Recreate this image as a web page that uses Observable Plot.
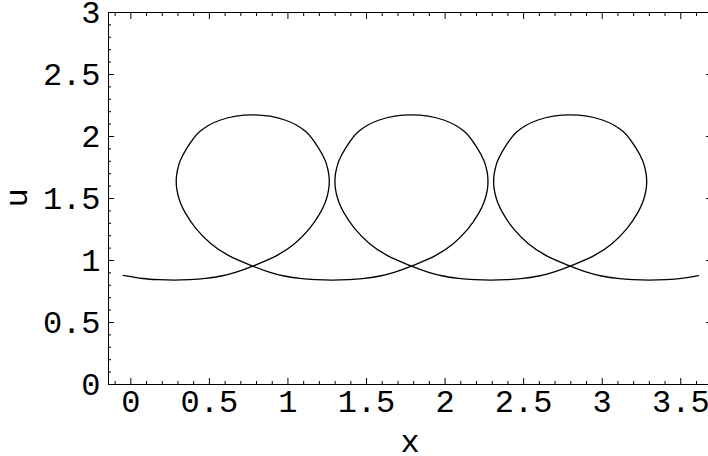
<!DOCTYPE html>
<html><head><meta charset="utf-8">
<script src="https://cdn.jsdelivr.net/npm/d3@7"></script>
<script src="https://cdn.jsdelivr.net/npm/@observablehq/plot@0.6"></script>
<style>html,body{margin:0;padding:0;background:#fff;}</style>
</head><body><div id="chart"></div>
<script>
// Curve points (x, u), in drawing order
const curveX = [-0.048, 0.076, 0.176, 0.276, 0.376, 0.476, 0.576, 0.676, 0.776,
  0.931, 1.042, 1.137, 1.208, 1.237, 1.251, 1.260, 1.263, 1.260, 1.251, 1.237, 1.196, 1.113, 0.981, 0.776,
  0.571, 0.439, 0.356, 0.315, 0.301, 0.292, 0.289, 0.292, 0.301, 0.315, 0.344, 0.415, 0.510, 0.621, 0.776,
  0.876, 0.976, 1.076, 1.176, 1.281,
  1.386, 1.486, 1.586, 1.686, 1.786,
  1.941, 2.052, 2.147, 2.218, 2.247, 2.261, 2.270, 2.273, 2.270, 2.261, 2.247, 2.206, 2.123, 1.991, 1.786,
  1.581, 1.449, 1.366, 1.325, 1.311, 1.302, 1.299, 1.302, 1.311, 1.325, 1.354, 1.425, 1.520, 1.631, 1.786,
  1.886, 1.986, 2.086, 2.186, 2.291,
  2.396, 2.496, 2.596, 2.696, 2.796,
  2.951, 3.062, 3.157, 3.228, 3.257, 3.271, 3.280, 3.283, 3.280, 3.271, 3.257, 3.216, 3.133, 3.001, 2.796,
  2.591, 2.459, 2.376, 2.335, 2.321, 2.312, 2.309, 2.312, 2.321, 2.335, 2.364, 2.435, 2.530, 2.641, 2.796,
  2.896, 2.996, 3.096, 3.196, 3.301, 3.406, 3.506, 3.613];
const curveU = [0.880, 0.855, 0.845, 0.841, 0.845, 0.856, 0.875, 0.909, 0.955,
  1.041, 1.136, 1.257, 1.390, 1.468, 1.524, 1.581, 1.637, 1.694, 1.750, 1.806, 1.905, 2.040, 2.133, 2.174,
  2.133, 2.040, 1.905, 1.806, 1.750, 1.694, 1.637, 1.581, 1.524, 1.468, 1.390, 1.257, 1.136, 1.041, 0.955,
  0.909, 0.875, 0.856, 0.845, 0.841,
  0.845, 0.856, 0.875, 0.909, 0.955,
  1.041, 1.136, 1.257, 1.390, 1.468, 1.524, 1.581, 1.637, 1.694, 1.750, 1.806, 1.905, 2.040, 2.133, 2.174,
  2.133, 2.040, 1.905, 1.806, 1.750, 1.694, 1.637, 1.581, 1.524, 1.468, 1.390, 1.257, 1.136, 1.041, 0.955,
  0.909, 0.875, 0.856, 0.845, 0.841,
  0.845, 0.856, 0.875, 0.909, 0.955,
  1.041, 1.136, 1.257, 1.390, 1.468, 1.524, 1.581, 1.637, 1.694, 1.750, 1.806, 1.905, 2.040, 2.133, 2.174,
  2.133, 2.040, 1.905, 1.806, 1.750, 1.694, 1.637, 1.581, 1.524, 1.468, 1.390, 1.257, 1.136, 1.041, 0.955,
  0.909, 0.875, 0.856, 0.845, 0.841, 0.845, 0.856, 0.878];

const xMajorTicks = [0, 0.5, 1, 1.5, 2, 2.5, 3, 3.5];
const xTickLabels = ["0", "0.5", "1", "1.5", "2", "2.5", "3", "3.5"];
const xMinorTicks = [-0.1, 0.1, 0.2, 0.3, 0.4, 0.6, 0.7, 0.8, 0.9, 1.1, 1.2, 1.3, 1.4, 1.6, 1.7, 1.8, 1.9,
  2.1, 2.2, 2.3, 2.4, 2.6, 2.7, 2.8, 2.9, 3.1, 3.2, 3.3, 3.4, 3.6];
const yMajorTicks = [0, 0.5, 1, 1.5, 2, 2.5, 3];
const yTickLabels = ["0", "0.5", "1", "1.5", "2", "2.5", "3"];
const yMinorTicks = [0.1, 0.2, 0.3, 0.4, 0.6, 0.7, 0.8, 0.9, 1.1, 1.2, 1.3, 1.4, 1.6, 1.7, 1.8, 1.9,
  2.1, 2.2, 2.3, 2.4, 2.6, 2.7, 2.8, 2.9];
const xDomain = [-0.142, 3.6955];
const yDomain = [0, 3];
const xTitle = ["x"];
const yTitle = ["u"];

const FONT = "Liberation Mono";
const curve = curveX.map((x, i) => ({x, u: curveU[i]}));
const xFmt = d => xTickLabels[xMajorTicks.indexOf(d)];
const yFmt = d => yTickLabels[yMajorTicks.indexOf(d)];
const tickOnly = {fill: "none", label: null, stroke: "#000"};

const chart = Plot.plot({
  width: 708, height: 456,
  marginLeft: 108, marginRight: -3, marginTop: 12, marginBottom: 72,
  x: {domain: xDomain},
  y: {domain: yDomain},
  style: {fontFamily: FONT, fontSize: "32px", background: "#fff", color: "#000"},
  marks: [
    Plot.ruleY([yDomain[0]], {stroke: "#000", strokeWidth: 1}),
    Plot.ruleY([yDomain[1]], {stroke: "#000", strokeWidth: 1}),
    Plot.ruleX([xDomain[0]], {stroke: "#000", strokeWidth: 1}),
    Plot.ruleX([xDomain[1]], {stroke: "#000", strokeWidth: 1}),
    // bottom ticks
    Plot.axisX({anchor: "bottom", ticks: xMajorTicks, tickSize: -6, ...tickOnly}),
    Plot.axisX({anchor: "bottom", ticks: xMinorTicks, tickSize: -3, ...tickOnly}),
    Plot.axisX({anchor: "bottom", ticks: xMajorTicks, tickSize: 0, tickPadding: 5, tickFormat: xFmt, label: null,
      fontFamily: FONT, fontSize: 32, fill: "#000"}),
    // top ticks
    Plot.axisX({anchor: "top", ticks: xMajorTicks, tickSize: -6, ...tickOnly}),
    Plot.axisX({anchor: "top", ticks: xMinorTicks, tickSize: -3, ...tickOnly}),
    // left ticks
    Plot.axisY({anchor: "left", ticks: yMajorTicks, tickSize: -6, ...tickOnly}),
    Plot.axisY({anchor: "left", ticks: yMinorTicks, tickSize: -3, ...tickOnly}),
    Plot.axisY({anchor: "left", ticks: yMajorTicks, tickSize: 0, tickPadding: 8, tickFormat: yFmt, label: null,
      fontFamily: FONT, fontSize: 32, fill: "#000"}),
    // right ticks
    Plot.axisY({anchor: "right", ticks: yMajorTicks, tickSize: -6, ...tickOnly}),
    Plot.axisY({anchor: "right", ticks: yMinorTicks, tickSize: -3, ...tickOnly}),
    // axis titles
    Plot.text(xTitle, {text: d => d, frameAnchor: "bottom", dy: 67, fontSize: 32, fontFamily: FONT, fill: "#000"}),
    Plot.text(yTitle, {text: d => d, frameAnchor: "left", dx: -92, dy: 9, rotate: -90, fontSize: 32, fontFamily: FONT, fill: "#000"}),
    // curve
    Plot.line(curve, {x: "x", y: "u", curve: "catmull-rom", stroke: "#000", strokeWidth: 1.3})
  ]
});
document.getElementById("chart").appendChild(chart);
</script>
</body></html>
